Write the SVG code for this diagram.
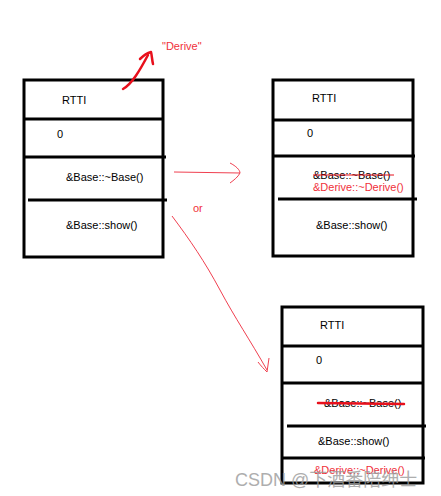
<svg xmlns="http://www.w3.org/2000/svg" width="441" height="496" viewBox="0 0 441 496">
<style>
.box{fill:none;stroke:#000;stroke-width:3}
.div{stroke:#000;stroke-width:3}
.t{font-family:"Liberation Sans","Noto Sans",sans-serif;font-size:11px;fill:#000}
.r{font-family:"Liberation Sans","Noto Sans",sans-serif;font-size:11px;fill:#f0303a}
.thin{fill:none;stroke:#f04050;stroke-width:1}
.thick{fill:none;stroke:#e8101c;stroke-width:2.5;stroke-linecap:round;stroke-linejoin:round}
</style>
<rect width="441" height="496" fill="#fff"/>
<g id="box1">
<rect class="box" x="24" y="80" width="139" height="177"/>
<line class="div" x1="24" y1="119" x2="163" y2="119"/>
<line class="div" x1="24" y1="157" x2="166" y2="157"/>
<line class="div" x1="28" y1="200" x2="167" y2="200"/>
<text class="t" x="62" y="104">RTTI</text>
<text class="t" x="57" y="138">0</text>
<text class="t" x="66" y="181">&amp;Base::~Base()</text>
<text class="t" x="66" y="229">&amp;Base::show()</text>
</g>
<g id="box2">
<rect class="box" x="273" y="80" width="140" height="176"/>
<line class="div" x1="273" y1="120" x2="413" y2="120"/>
<line class="div" x1="273" y1="156" x2="415" y2="156"/>
<line class="div" x1="278" y1="199" x2="417" y2="199"/>
<text class="t" x="312" y="102">RTTI</text>
<text class="t" x="307" y="137">0</text>
<text class="t" x="313" y="179">&amp;Base::~Base()</text>
<line x1="313" y1="175" x2="394" y2="175" stroke="#e8101c" stroke-width="1"/>
<text class="r" x="313" y="191">&amp;Derive::~Derive()</text>
<text class="t" x="316" y="229">&amp;Base::show()</text>
</g>
<g id="box3">
<rect class="box" x="282" y="307" width="141" height="176"/>
<line class="div" x1="282" y1="346" x2="423" y2="346"/>
<line class="div" x1="282" y1="383" x2="424" y2="383"/>
<line class="div" x1="287" y1="426" x2="426" y2="426"/>
<line class="div" x1="282" y1="458" x2="425" y2="458"/>
<text class="t" x="320" y="329">RTTI</text>
<text class="t" x="316" y="364">0</text>
<text class="t" x="324" y="407">&amp;Base::~Base()</text>
<line class="thick" x1="318" y1="403" x2="404" y2="404" stroke-width="3"/>
<text class="t" x="318" y="445">&amp;Base::show()</text>
<text class="r" x="314" y="474">&amp;Derive::~Derive()</text>
</g>
<g id="labels">
<text class="r" x="162" y="50">"Derive"</text>
<text class="r" x="193" y="212">or</text>
</g>
<g id="connectors">
<path class="thick" d="M123,89 C132,84 140,70 148,55"/>
<path class="thick" d="M140,59 C144,55 147,53 151,52 C152,56 152,60 153,64"/>
<path class="thin" d="M174,172 L240,173"/>
<path class="thin" d="M230,163 C236,166 240,170 240,173 C238,177 234,180 230,183"/>
<path class="thin" d="M172,216 C190,240 205,262 220,290 C235,318 250,340 267,370"/>
<path class="thin" d="M258,362 C261,366 264,369 267,372 C268,367 268,363 269,358"/>
</g>
<g id="watermark">
<text x="235" y="486" font-family="'Liberation Sans','Noto Sans CJK SC',sans-serif" font-size="18" fill="#9a9a9a" opacity="0.8">CSDN @下酒番陪绅士</text>
</g>
</svg>
